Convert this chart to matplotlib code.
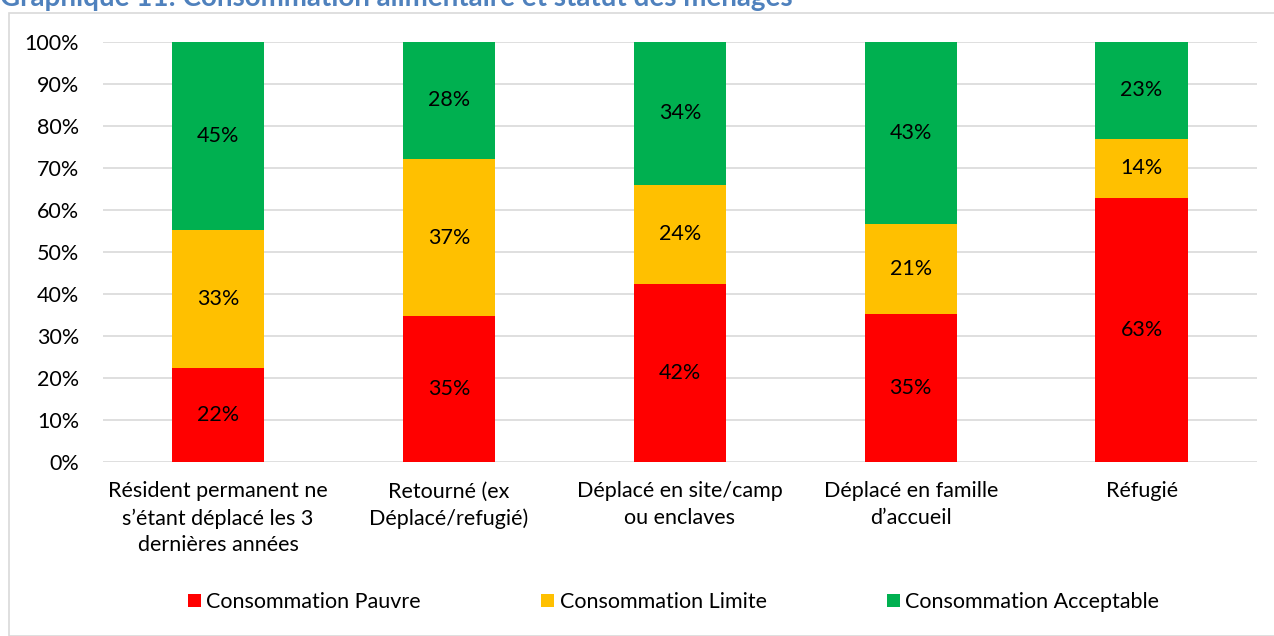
import matplotlib.pyplot as plt
from matplotlib.patches import Rectangle
import numpy as np

plt.rcParams['font.family'] = ['Lato', 'DejaVu Sans']

# Data (percent)
categories = [
    "Résident permanent ne\ns\u2019étant déplacé les 3\ndernières années",
    "Retourné (ex\nDéplacé/refugié)",
    "Déplacé en site/camp\nou enclaves",
    "Déplacé en famille\nd\u2019accueil",
    "Réfugié",
]
pauvre = [22.4, 34.7, 42.3, 35.2, 62.9]
limite = [32.7, 37.4, 23.7, 21.4, 13.9]
acceptable = [44.9, 27.9, 34.0, 43.4, 23.2]

series_names = ["Consommation Pauvre", "Consommation Limite", "Consommation Acceptable"]
colors = ["#FF0000", "#FFC000", "#00B050"]

FS = 15.5

fig = plt.figure(figsize=(12.74, 6.36), dpi=100)
ax = fig.add_axes([0.0805, 0.2736, 0.9062, 0.6608])

# outer frame of the chart area
fig.patches.append(Rectangle((9 / 1274, 0), 1, 1 - 12.5 / 636, transform=fig.transFigure,
                             fill=False, edgecolor="#D9D9D9", linewidth=1.2, zorder=0))

# title (cut at top in the original)
fig.text(0.0, 1 - 6 / 636, "Graphique 11: Consommation alimentaire et statut des ménages",
         color="#4F81BD", fontsize=20, fontweight="bold", va="baseline", ha="left")

x = np.arange(len(categories))
bottom = np.zeros(len(categories))
for vals, name, col in zip([pauvre, limite, acceptable], series_names, colors):
    vals = np.array(vals)
    ax.bar(x, vals, width=0.4, bottom=bottom, color=col, label=name, zorder=3)
    for xi, b, v in zip(x, bottom, vals):
        ax.text(xi, b + v / 2, f"{round(v):.0f}%", ha="center", va="center",
                fontsize=FS, color="black", zorder=4)
    bottom += vals

ax.set_xlim(-0.5, len(categories) - 0.5)
ax.set_ylim(0, 100)
ax.set_yticks(np.arange(0, 101, 10))
ax.set_yticklabels([f"{v}%" for v in range(0, 101, 10)])
ax.set_xticks(x)
ax.set_xticklabels(categories, linespacing=1.42)
ax.tick_params(axis="both", length=0, labelsize=FS, colors="black")
ax.tick_params(axis="y", pad=17)
ax.tick_params(axis="x", pad=14)
ax.yaxis.grid(True, color="#D9D9D9", linewidth=1.2, zorder=0)
for s in ax.spines.values():
    s.set_visible(False)

fig.legend(loc="center", bbox_to_anchor=(0.5287, 1 - 602 / 636), ncol=3, frameon=False,
           fontsize=FS, handlelength=0.6, handleheight=0.6, handletextpad=0.25,
           columnspacing=5.6)

fig.savefig("out.png", dpi=100)
